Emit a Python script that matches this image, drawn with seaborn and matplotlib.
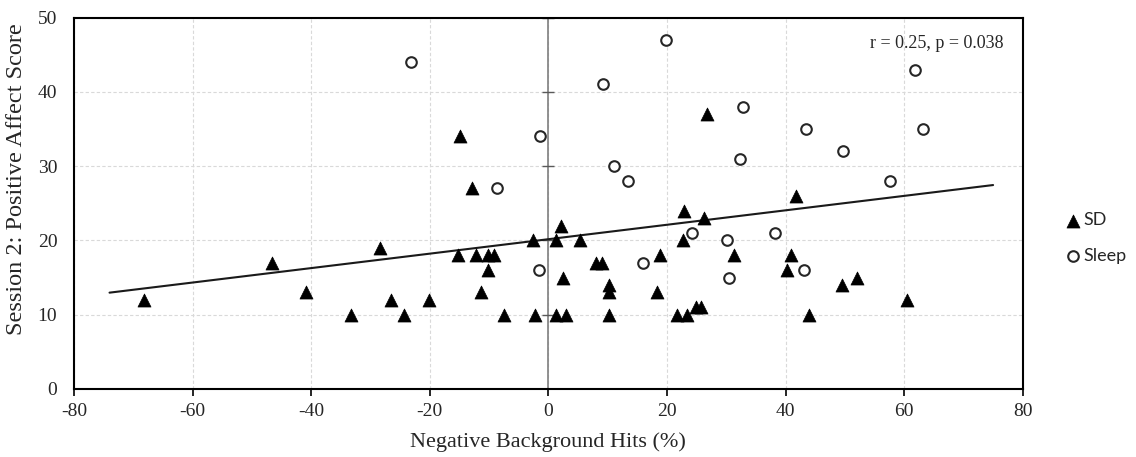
import numpy as np
import pandas as pd
import matplotlib
matplotlib.use("Agg")
import matplotlib.pyplot as plt
import seaborn as sns

# Negative background hits (%) and session-2 positive affect scores
sd_hits = [-68.2, -46.6, -40.8, -33.2, -28.4, -26.6, -24.3, -20.1, -15.3, -12.2,
           -10.2, -9.1, -10.2, -11.3, -7.4, -2.6, -2.3, 1.35, 1.35, 2.2,
           2.4, 3.0, 5.3, 8.0, 9.0, 10.3, 10.3, 10.3, -14.9, -12.8,
           26.8, 18.8, 18.3, 22.8, 26.3, 22.7, 21.7, 23.3, 24.9, 25.7,
           31.3, 41.7, 41.0, 40.3, 43.9, 49.5, 52.1, 60.4]
sd_affect = [12, 17, 13, 10, 19, 12, 10, 12, 18, 18,
             18, 18, 16, 13, 10, 20, 10, 20, 10, 22,
             15, 10, 20, 17, 17, 14, 13, 10, 34, 27,
             37, 18, 13, 24, 23, 20, 10, 10, 11, 11,
             18, 26, 18, 16, 10, 14, 15, 12]

sleep_hits = [-23.1, -1.35, -8.7, -1.6, 19.8, 9.2, 61.8, 32.9, 43.5, 63.1,
              49.7, 32.3, 11.0, 13.5, 57.6, 16.0, 24.2, 30.2, 38.3, 30.4, 43.1]
sleep_affect = [44, 34, 27, 16, 47, 41, 43, 38, 35, 35,
                32, 31, 30, 28, 28, 17, 21, 20, 21, 15, 16]

x_ticks = [-80, -60, -40, -20, 0, 20, 40, 60, 80]
y_ticks = [0, 10, 20, 30, 40, 50]

# linear trend (all participants)
trend_intercept = 20.16
trend_slope = 0.0972
trend_span = [-74, 75]
stat_label = "r = 0.25, p = 0.038"

df = pd.DataFrame({
    "hits": sd_hits + sleep_hits,
    "affect": sd_affect + sleep_affect,
    "group": ["SD"] * len(sd_hits) + ["Sleep"] * len(sleep_hits),
})

sns.set_theme(style="white")
plt.rcParams["font.family"] = ["Liberation Serif", "DejaVu Serif"]

fig = plt.figure(figsize=(11.36, 4.57), dpi=100)
ax = fig.add_axes([0.0651, 0.1488, 0.8352, 0.8129])

# grid
for xv in x_ticks:
    ax.axvline(xv, color="#d9d9d9", lw=0.8, ls=(0, (3, 2)), zorder=0)
for yv in y_ticks:
    ax.axhline(yv, color="#d9d9d9", lw=0.8, ls=(0, (3, 2)), zorder=0)

# vertical axis crossing at zero, with its tick marks
ax.axvline(0, color="#7f7f7f", lw=1.2, zorder=1)
ax.plot([0] * len(y_ticks), y_ticks, ls="none", marker="_", ms=9,
        mew=1.0, color="#595959", zorder=1)

sd_df = df[df.group == "SD"]
sl_df = df[df.group == "Sleep"]
sns.scatterplot(data=sd_df, x="hits", y="affect", marker="^", s=88,
                color="black", edgecolor="black", linewidth=0.5, ax=ax,
                zorder=3, label="SD")
sns.scatterplot(data=sl_df, x="hits", y="affect", marker="o", s=58,
                facecolor="white", edgecolor="#262626", linewidth=1.5, ax=ax,
                zorder=3, label="Sleep")

xs = np.array(trend_span, dtype=float)
ax.plot(xs, trend_intercept + trend_slope * xs, color="#1a1a1a", lw=1.5, zorder=2)

ax.set_xlim(x_ticks[0], x_ticks[-1])
ax.set_ylim(y_ticks[0], y_ticks[-1])
ax.set_xticks(x_ticks)
ax.set_yticks(y_ticks)
ax.set_xticklabels([str(v) for v in x_ticks])
ax.set_yticklabels([str(v) for v in y_ticks])
ax.tick_params(axis="x", direction="out", length=5, width=1.2, color="black",
               labelsize=14, pad=5, bottom=True)
ax.tick_params(axis="y", length=0, labelsize=14, pad=12)
for sp in ax.spines.values():
    sp.set_color("black")
    sp.set_linewidth(1.5)

ax.set_xlabel("Negative Background Hits (%)", fontsize=16, labelpad=9)
ax.set_ylabel("Session 2: Positive Affect Score", fontsize=17.5)
ax.yaxis.set_label_coords(-0.049, 0.565)
ax.text(0.980, 0.931, stat_label, transform=ax.transAxes, ha="right",
        va="center", fontsize=13)

leg = ax.legend(loc="center left", bbox_to_anchor=(1.036, 0.406), frameon=False,
                prop={"family": "Lato", "size": 13}, handletextpad=0.05,
                labelspacing=1.1, handlelength=1.0, borderaxespad=0)

fig.savefig("out.png", dpi=100)
